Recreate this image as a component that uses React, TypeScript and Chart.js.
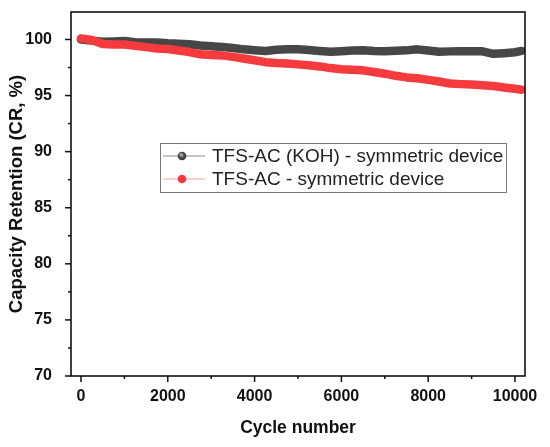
// App.tsx
import { useEffect, useRef } from "react";
import { Chart, registerables } from "chart.js";
import type { ChartConfiguration, Plugin } from "chart.js";

Chart.register(...registerables);

const FONT = "'Liberation Sans', Arial, sans-serif";

const cycles = [
  0, 250, 500, 750, 1000, 1250, 1500, 1750, 2000, 2250, 2500, 2750, 3000, 3250, 3500, 3750,
  4000, 4250, 4500, 4750, 5000, 5250, 5500, 5750, 6000, 6250, 6500, 6750, 7000, 7250, 7500,
  7750, 8000, 8250, 8500, 8750, 9000, 9250, 9500, 9750, 10000, 10150,
];

const kohRetention = [
  100.0, 99.9, 99.8, 99.82, 99.86, 99.76, 99.74, 99.73, 99.66, 99.62, 99.57, 99.47, 99.4, 99.34,
  99.24, 99.12, 99.05, 98.98, 99.08, 99.12, 99.12, 99.06, 98.98, 98.9, 98.96, 99.02, 99.05, 98.98,
  98.96, 98.99, 99.03, 99.12, 99.02, 98.9, 98.94, 98.96, 98.96, 98.94, 98.72, 98.78, 98.86, 98.98,
];

const acRetention = [
  100.1, 99.95, 99.6, 99.55, 99.55, 99.43, 99.32, 99.2, 99.15, 99.02, 98.88, 98.68, 98.62, 98.58,
  98.45, 98.3, 98.15, 97.98, 97.9, 97.86, 97.78, 97.7, 97.6, 97.45, 97.35, 97.3, 97.25, 97.1,
  96.95, 96.76, 96.62, 96.55, 96.4, 96.25, 96.08, 96.02, 95.98, 95.92, 95.85, 95.72, 95.6, 95.52,
];

// all tick positions (minor + major) and the labelled ones
const xTicks = [0, 1000, 2000, 3000, 4000, 5000, 6000, 7000, 8000, 9000, 10000];
const xLabelTicks = [0, 2000, 4000, 6000, 8000, 10000];
const yTicks = [70, 72.5, 75, 77.5, 80, 82.5, 85, 87.5, 90, 92.5, 95, 97.5, 100];
const yLabelTicks = [70, 75, 80, 85, 90, 95, 100];

const seriesNames = ["TFS-AC (KOH) - symmetric device", "TFS-AC - symmetric device"];

// frame box + outward ticks (major/minor)
const framePlugin: Plugin<"line"> = {
  id: "frame",
  afterDatasetsDraw(chart) {
    const { ctx, chartArea: a, scales } = chart;
    ctx.save();
    ctx.strokeStyle = "#111";
    ctx.lineWidth = 1.6;
    ctx.strokeRect(a.left, a.top, a.right - a.left, a.bottom - a.top);

    ctx.lineWidth = 1.5;
    const x = scales.x;
    x.ticks.forEach((t) => {
      const px = x.getPixelForValue(t.value);
      const len = xLabelTicks.includes(t.value) ? 6 : 3;
      ctx.beginPath();
      ctx.moveTo(px, a.bottom);
      ctx.lineTo(px, a.bottom + len);
      ctx.stroke();
    });
    const y = scales.y;
    y.ticks.forEach((t) => {
      const py = y.getPixelForValue(t.value);
      const len = yLabelTicks.includes(t.value) ? 6 : 3;
      ctx.beginPath();
      ctx.moveTo(a.left, py);
      ctx.lineTo(a.left - len, py);
      ctx.stroke();
    });
    ctx.restore();
  },
};

// legend box drawn inside the plot
const legendPlugin: Plugin<"line"> = {
  id: "boxLegend",
  afterDraw(chart) {
    const { ctx } = chart;
    const box = { left: 160, top: 143, right: 506, bottom: 192 };
    const rows = [156, 179];
    const lineColors = ["#8a8a8a", "#f7a0a0"];
    ctx.save();
    ctx.fillStyle = "#fff";
    ctx.fillRect(box.left, box.top, box.right - box.left, box.bottom - box.top);
    ctx.strokeStyle = "#777";
    ctx.lineWidth = 1;
    ctx.strokeRect(box.left + 0.5, box.top + 0.5, box.right - box.left, box.bottom - box.top);

    chart.data.datasets.forEach((ds, i) => {
      const cy = rows[i];
      ctx.strokeStyle = lineColors[i];
      ctx.lineWidth = 1.2;
      ctx.beginPath();
      ctx.moveTo(163, cy);
      ctx.lineTo(205, cy);
      ctx.stroke();

      if (i === 0) {
        const g = ctx.createRadialGradient(181, cy - 1.5, 0.5, 182, cy, 4.5);
        g.addColorStop(0, "#b0b0b0");
        g.addColorStop(0.5, "#555");
        g.addColorStop(1, "#2a2a2a");
        ctx.fillStyle = g;
      } else {
        ctx.fillStyle = ds.borderColor as string;
      }
      ctx.beginPath();
      ctx.arc(182, cy, 4.3, 0, Math.PI * 2);
      ctx.fill();

      ctx.fillStyle = "#222";
      ctx.font = `19px ${FONT}`;
      ctx.textBaseline = "middle";
      ctx.textAlign = "left";
      ctx.fillText(ds.label ?? "", 212, cy + 1);
    });
    ctx.restore();
  },
};

export default function App() {
  const canvasRef = useRef<HTMLCanvasElement | null>(null);

  useEffect(() => {
    const ctx = canvasRef.current!.getContext("2d")!;

    const config: ChartConfiguration<"line", { x: number; y: number }[]> = {
      type: "line",
      data: {
        datasets: [
          {
            label: seriesNames[0],
            data: cycles.map((c, i) => ({ x: c, y: kohRetention[i] })),
            borderColor: "#474747",
            borderWidth: 8.5,
            borderCapStyle: "round",
            borderJoinStyle: "round",
            pointRadius: 0,
            tension: 0,
            order: 2,
          },
          {
            label: seriesNames[1],
            data: cycles.map((c, i) => ({ x: c, y: acRetention[i] })),
            borderColor: "#f53b3e",
            borderWidth: 8.5,
            borderCapStyle: "round",
            borderJoinStyle: "round",
            pointRadius: 0,
            tension: 0,
            order: 1,
          },
        ],
      },
      options: {
        responsive: true,
        maintainAspectRatio: false,
        animation: false,
        layout: { padding: { left: 0, top: 12, right: 25, bottom: 0 } },
        plugins: {
          legend: { display: false },
          tooltip: { enabled: false },
        },
        scales: {
          x: {
            type: "linear",
            min: -230,
            max: 10230,
            grid: { display: false },
            border: { display: false },
            afterBuildTicks: (s) => {
              s.ticks = xTicks.map((v) => ({ value: v }));
            },
            afterFit: (s) => {
              s.height = 71;
              s.paddingLeft = 0;
              s.paddingRight = 0;
            },
            ticks: {
              autoSkip: false,
              maxRotation: 0,
              padding: 3,
              color: "#111",
              font: { family: FONT, size: 16, weight: "bold" },
              callback: (v) => (xLabelTicks.includes(Number(v)) ? String(v) : ""),
            },
            title: {
              display: true,
              text: "Cycle number",
              color: "#111",
              font: { family: FONT, size: 17.5, weight: "bold" },
              padding: { top: 0, bottom: 8 },
            },
          },
          y: {
            type: "linear",
            min: 70,
            max: 102.45,
            grid: { display: false },
            border: { display: false },
            afterBuildTicks: (s) => {
              s.ticks = yTicks.map((v) => ({ value: v }));
            },
            afterFit: (s) => {
              s.width = 71;
              s.paddingTop = 0;
              s.paddingBottom = 0;
            },
            ticks: {
              autoSkip: false,
              padding: 11,
              color: "#111",
              font: { family: FONT, size: 16, weight: "bold" },
              callback: (v) => (yLabelTicks.includes(Number(v)) ? String(v) : ""),
            },
            title: {
              display: true,
              text: "Capacity Retention (CR, %)",
              color: "#111",
              font: { family: FONT, size: 18.5, weight: "bold" },
              padding: { top: 6, bottom: 0 },
            },
          },
        },
      },
      plugins: [framePlugin, legendPlugin],
    };

    const chart = new Chart(ctx, config);
    return () => chart.destroy();
  }, []);

  return (
    <div style={{ position: "absolute", left: 0, top: 0, width: 550, height: 447, background: "#fff" }}>
      <canvas ref={canvasRef} />
    </div>
  );
}
